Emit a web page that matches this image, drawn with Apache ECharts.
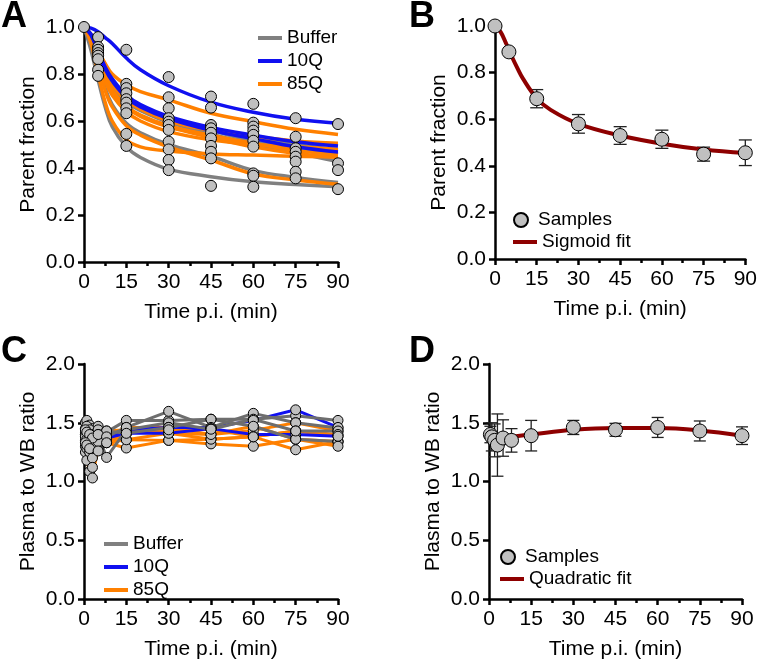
<!DOCTYPE html>
<html><head><meta charset="utf-8">
<script src="https://cdn.jsdelivr.net/npm/echarts@6/dist/echarts.min.js"></script>
<style>html,body{margin:0;padding:0;background:#fff}#c{width:760px;height:664px}</style>
</head><body><div id="c"></div>
<script>
const FONT = "'Liberation Sans', Arial, Helvetica, sans-serif";
const GRAY = '#808080', BLUE = '#1010f0', ORANGE = '#ff8000', DARKRED = '#8e0000';
const PT_FILL = '#c0c0c0';

// ---------- Panel A: individual fits + samples ----------
const curveTimes = [0, 2.5, 5, 7.5, 10, 15, 20, 30, 45, 60, 75, 90];
const bufferFits = [
  [1, 0.96, 0.885, 0.81, 0.76, 0.70, 0.665, 0.615, 0.57, 0.53, 0.50, 0.477],
  [1, 0.96, 0.88, 0.80, 0.75, 0.69, 0.655, 0.605, 0.56, 0.515, 0.485, 0.46],
  [1, 0.958, 0.875, 0.795, 0.745, 0.68, 0.645, 0.595, 0.545, 0.50, 0.465, 0.427],
  [1, 0.95, 0.845, 0.74, 0.67, 0.59, 0.55, 0.50, 0.45, 0.39, 0.36, 0.338],
  [1, 0.90, 0.775, 0.66, 0.576, 0.49, 0.445, 0.395, 0.363, 0.341, 0.33, 0.32]
];
const q10Fits = [
  [1, 0.995, 0.98, 0.955, 0.93, 0.868, 0.818, 0.75, 0.68, 0.637, 0.607, 0.59],
  [1, 0.97, 0.90, 0.83, 0.78, 0.71, 0.67, 0.62, 0.573, 0.54, 0.512, 0.494],
  [1, 0.965, 0.89, 0.82, 0.77, 0.70, 0.66, 0.61, 0.56, 0.525, 0.49, 0.468]
];
const q85Fits = [
  [1, 0.97, 0.90, 0.845, 0.80, 0.754, 0.725, 0.69, 0.633, 0.597, 0.565, 0.543],
  [1, 0.96, 0.88, 0.80, 0.75, 0.69, 0.65, 0.60, 0.56, 0.535, 0.515, 0.505],
  [1, 0.955, 0.87, 0.79, 0.73, 0.665, 0.625, 0.58, 0.54, 0.505, 0.475, 0.455],
  [1, 0.955, 0.865, 0.785, 0.725, 0.66, 0.62, 0.575, 0.53, 0.49, 0.462, 0.445],
  [1, 0.93, 0.80, 0.68, 0.60, 0.52, 0.49, 0.472, 0.46, 0.455, 0.45, 0.448],
  [1, 0.95, 0.84, 0.73, 0.66, 0.58, 0.54, 0.49, 0.434, 0.375, 0.349, 0.331],
  [1, 0.95, 0.86, 0.77, 0.71, 0.64, 0.60, 0.555, 0.52, 0.50, 0.49, 0.48]
];
const sampleTimesA = [0, 5, 15, 30, 45, 60, 75, 90];
const sampleValuesA = [
  [1.0],
  [0.957, 0.915, 0.903, 0.889, 0.878, 0.863, 0.818, 0.792],
  [0.903, 0.758, 0.74, 0.718, 0.693, 0.678, 0.654, 0.633, 0.545, 0.494],
  [0.787, 0.701, 0.654, 0.612, 0.597, 0.583, 0.562, 0.512, 0.479, 0.434, 0.391],
  [0.704, 0.657, 0.583, 0.569, 0.55, 0.526, 0.494, 0.469, 0.441, 0.324],
  [0.673, 0.593, 0.576, 0.559, 0.541, 0.516, 0.491, 0.377, 0.367, 0.32],
  [0.612, 0.533, 0.484, 0.469, 0.448, 0.427, 0.384, 0.356],
  [0.587, 0.42, 0.391, 0.31]
];

// ---------- Panel B: mean parent fraction + sigmoid fit ----------
const timesB = [0, 5, 15, 30, 45, 60, 75, 90];
const meanB = [1.0, 0.889, 0.688, 0.58, 0.53, 0.514, 0.45, 0.456];
const errB = [0, 0.008, 0.039, 0.04, 0.038, 0.039, 0.03, 0.055];
const sigmoidTimes = [0, 2, 4, 6, 8, 10, 15, 20, 30, 45, 60, 75, 90];
const sigmoidFit = [1.0, 0.975, 0.925, 0.87, 0.82, 0.775, 0.69, 0.64, 0.58, 0.53, 0.495, 0.47, 0.455];

// ---------- Panel C: individual plasma/WB ratios ----------
const ratioTimes = [0.5, 1, 2, 3, 5, 8, 15, 30, 45, 60, 75, 90];
const bufferRatios = [
  [1.50, 1.52, 1.48, 1.45, 1.47, 1.42, 1.52, 1.52, 1.53, 1.53, 1.56, 1.52],
  [1.45, 1.47, 1.44, 1.40, 1.44, 1.38, 1.46, 1.597, 1.46, 1.58, 1.50, 1.455],
  [1.40, 1.42, 1.38, 1.35, 1.40, 1.205, 1.44, 1.50, 1.445, 1.53, 1.43, 1.43],
  [1.38, 1.36, 1.33, 1.30, 1.38, 1.43, 1.41, 1.46, 1.53, 1.47, 1.36, 1.34]
];
const q10Ratios = [
  [1.42, 1.40, 1.38, 1.35, 1.36, 1.36, 1.44, 1.46, 1.46, 1.52, 1.61, 1.46],
  [1.40, 1.38, 1.35, 1.33, 1.35, 1.37, 1.41, 1.41, 1.45, 1.40, 1.40, 1.385]
];
const q85Ratios = [
  [1.25, 1.18, 1.085, 1.03, 1.30, 1.33, 1.355, 1.41, 1.40, 1.435, 1.50, 1.43],
  [1.30, 1.28, 1.25, 1.20, 1.28, 1.33, 1.285, 1.35, 1.36, 1.38, 1.27, 1.34],
  [1.35, 1.33, 1.30, 1.28, 1.33, 1.38, 1.355, 1.35, 1.32, 1.30, 1.36, 1.34],
  [1.38, 1.36, 1.32, 1.30, 1.34, 1.43, 1.44, 1.41, 1.36, 1.38, 1.43, 1.40],
  [1.44, 1.42, 1.40, 1.37, 1.40, 1.38, 1.46, 1.46, 1.40, 1.47, 1.36, 1.30],
  [1.33, 1.31, 1.28, 1.12, 1.26, 1.33, 1.41, 1.44, 1.445, 1.38, 1.43, 1.385]
];

// ---------- Panel D: mean ratio + quadratic fit ----------
const timesD = [0.5, 1, 2, 3, 5, 8, 15, 30, 45, 60, 75, 90];
const meanD = [1.40, 1.38, 1.35, 1.31, 1.37, 1.35, 1.39, 1.46, 1.44, 1.46, 1.43, 1.39];
const errD = [0.07, 0.12, 0.14, 0.265, 0.155, 0.10, 0.13, 0.06, 0.055, 0.085, 0.085, 0.075];
const quadTimes = [0, 8, 15, 30, 45, 60, 75, 90];
const quadFit = [1.35, 1.38, 1.40, 1.44, 1.455, 1.455, 1.435, 1.39];

const xTickLabels = ['0', '15', '30', '45', '60', '75', '90'];

// ---------- build option ----------
const axisLineStyle = {color: '#000', width: 2.5};
const labelStyle = {fontSize: 21, color: '#000', fontFamily: FONT};

function makeX(gi) {
  return {
    type: 'value', gridIndex: gi, min: 0, max: 90, interval: 15,
    name: 'Time p.i. (min)', nameLocation: 'middle', nameGap: 40,
    nameTextStyle: labelStyle,
    axisLine: {show: true, onZero: false, lineStyle: axisLineStyle},
    axisTick: {show: true, length: 6, lineStyle: axisLineStyle},
    minorTick: {show: true, splitNumber: 2, length: 4, lineStyle: axisLineStyle},
    splitLine: {show: false}, minorSplitLine: {show: false},
    axisLabel: Object.assign({margin: 10, showMinLabel: true, showMaxLabel: true,
      formatter: v => xTickLabels[Math.round(v / 15)]}, labelStyle)
  };
}
function makeY(gi, name, max, interval) {
  return {
    type: 'value', gridIndex: gi, min: 0, max: max, interval: interval,
    name: name, nameLocation: 'middle', nameGap: 45,
    nameTextStyle: labelStyle,
    axisLine: {show: true, onZero: false, lineStyle: axisLineStyle},
    axisTick: {show: true, length: 6, lineStyle: axisLineStyle},
    splitLine: {show: false},
    axisLabel: Object.assign({margin: 9, showMinLabel: true, showMaxLabel: true,
      formatter: v => v.toFixed(1)}, labelStyle)
  };
}

const series = [];
function fitSeries(arrs, name, color, gi) {
  arrs.forEach(a => series.push({
    type: 'line', name: name, xAxisIndex: gi, yAxisIndex: gi,
    data: curveTimes.map((t, i) => [t, a[i]]),
    smooth: 0.4, symbol: 'none', clip: false, z: 2,
    lineStyle: {color: color, width: 3.5}, itemStyle: {color: color}
  }));
}
fitSeries(bufferFits, 'Buffer', GRAY, 0);
fitSeries(q85Fits, '85Q', ORANGE, 0);
fitSeries(q10Fits, '10Q', BLUE, 0);
series.push({
  type: 'scatter', name: 'ptsA', xAxisIndex: 0, yAxisIndex: 0, clip: false, z: 5,
  symbol: 'circle', symbolSize: 11,
  itemStyle: {color: PT_FILL, borderColor: '#000', borderWidth: 1, opacity: 1},
  data: sampleTimesA.flatMap((t, i) => sampleValuesA[i].map(v => [t, v]))
});

function errorBars(gi, times, means, errs, cap) {
  return {
    type: 'custom', xAxisIndex: gi, yAxisIndex: gi, clip: false, z: 1, silent: true,
    data: times.map((t, i) => [t, means[i], means[i] - errs[i], means[i] + errs[i]]),
    renderItem: (params, api) => {
      const x = api.value(0);
      const lo = api.coord([x, api.value(2)]);
      const hi = api.coord([x, api.value(3)]);
      const st = {stroke: '#222', lineWidth: 1.3};
      if (api.value(3) - api.value(2) < 0.02) return {type: 'group', children: []};
      return {type: 'group', children: [
        {type: 'line', shape: {x1: lo[0], y1: lo[1], x2: hi[0], y2: hi[1]}, style: st},
        {type: 'line', shape: {x1: lo[0] - cap, y1: lo[1], x2: lo[0] + cap, y2: lo[1]}, style: st},
        {type: 'line', shape: {x1: hi[0] - cap, y1: hi[1], x2: hi[0] + cap, y2: hi[1]}, style: st}
      ]};
    }
  };
}

// Panel B
series.push(errorBars(1, timesB, meanB, errB, 6.5));
series.push({
  type: 'line', name: 'Sigmoid fit', xAxisIndex: 1, yAxisIndex: 1, clip: false, z: 2,
  data: sigmoidTimes.map((t, i) => [t, sigmoidFit[i]]), smooth: 0.4, symbol: 'none',
  lineStyle: {color: DARKRED, width: 4}, itemStyle: {color: DARKRED}
});
series.push({
  type: 'scatter', name: 'Samples', xAxisIndex: 1, yAxisIndex: 1, clip: false, z: 5,
  symbol: 'circle', symbolSize: 14,
  itemStyle: {color: PT_FILL, borderColor: '#000', borderWidth: 1, opacity: 1},
  data: timesB.map((t, i) => [t, meanB[i]])
});

// Panel C
function ratioSeries(arrs, name, color) {
  arrs.forEach(a => series.push({
    type: 'line', name: name, xAxisIndex: 2, yAxisIndex: 2, clip: false, z: 2,
    data: ratioTimes.map((t, i) => [t, a[i]]), symbol: 'none',
    lineStyle: {color: color, width: 3}, itemStyle: {color: color}
  }));
}
ratioSeries(q85Ratios, '85Q', ORANGE);
ratioSeries(q10Ratios, '10Q', BLUE);
ratioSeries(bufferRatios, 'Buffer', '#6e6e6e');
series.push({
  type: 'scatter', name: 'ptsC', xAxisIndex: 2, yAxisIndex: 2, clip: false, z: 5,
  symbol: 'circle', symbolSize: 10,
  itemStyle: {color: PT_FILL, borderColor: '#000', borderWidth: 1, opacity: 1},
  data: [].concat(bufferRatios, q10Ratios, q85Ratios).flatMap(a => ratioTimes.map((t, i) => [t, a[i]]))
});

// Panel D
series.push(errorBars(3, timesD, meanD, errD, 6));
series.push({
  type: 'line', name: 'Quadratic fit', xAxisIndex: 3, yAxisIndex: 3, clip: false, z: 2,
  data: quadTimes.map((t, i) => [t, quadFit[i]]), smooth: 0.4, symbol: 'none',
  lineStyle: {color: DARKRED, width: 4}, itemStyle: {color: DARKRED}
});
series.push({
  type: 'scatter', name: 'Samples', xAxisIndex: 3, yAxisIndex: 3, clip: false, z: 5,
  symbol: 'circle', symbolSize: 14,
  itemStyle: {color: PT_FILL, borderColor: '#000', borderWidth: 1, opacity: 1},
  data: timesD.map((t, i) => [t, meanD[i]])
});

const lineLegend = (left, top, names) => ({
  orient: 'vertical', left: left, top: top, itemWidth: 24, itemHeight: 4, itemGap: 1,
  selectedMode: false, padding: 0, icon: 'rect',
  textStyle: {fontSize: 19, lineHeight: 22, color: '#000', fontFamily: FONT},
  data: names
});
const dotLegend = (left, top, names) => ({
  orient: 'vertical', left: left, top: top, itemWidth: 24, itemHeight: 14, itemGap: 1,
  selectedMode: false, padding: 0,
  textStyle: {fontSize: 19, lineHeight: 22, color: '#000', fontFamily: FONT},
  data: names
});
const letter = (t, x, y) => ({type: 'text', left: x, top: y,
  style: {text: t, fontSize: 36, fontWeight: 'bold', fontFamily: FONT, fill: '#000'}});

const option = {
  animation: false,
  backgroundColor: '#fff',
  textStyle: {fontFamily: FONT},
  grid: [
    {left: 84, top: 27, width: 254, height: 235},
    {left: 495, top: 26, width: 253, height: 233},
    {left: 84, top: 364, width: 254, height: 235},
    {left: 489, top: 364, width: 253, height: 235}
  ],
  xAxis: [makeX(0), makeX(1), makeX(2), makeX(3)],
  yAxis: [
    makeY(0, 'Parent fraction', 1, 0.2),
    makeY(1, 'Parent fraction', 1, 0.2),
    makeY(2, 'Plasma to WB ratio', 2, 0.5),
    makeY(3, 'Plasma to WB ratio', 2, 0.5)
  ],
  legend: [
    lineLegend(258, 27, ['Buffer', '10Q', '85Q']),
    dotLegend(513, 209, ['Samples']),
    lineLegend(513, 231, ['Sigmoid fit']),
    lineLegend(104, 533, ['Buffer', '10Q', '85Q']),
    dotLegend(500, 546, ['Samples']),
    lineLegend(500, 568, ['Quadratic fit'])
  ],
  graphic: [letter('A', 1, -1), letter('B', 409, -1), letter('C', 1, 334), letter('D', 409, 334)],
  series: series
};
const chart = echarts.init(document.getElementById('c'), null, {renderer: 'canvas'});
chart.setOption(option);
</script></body></html>
